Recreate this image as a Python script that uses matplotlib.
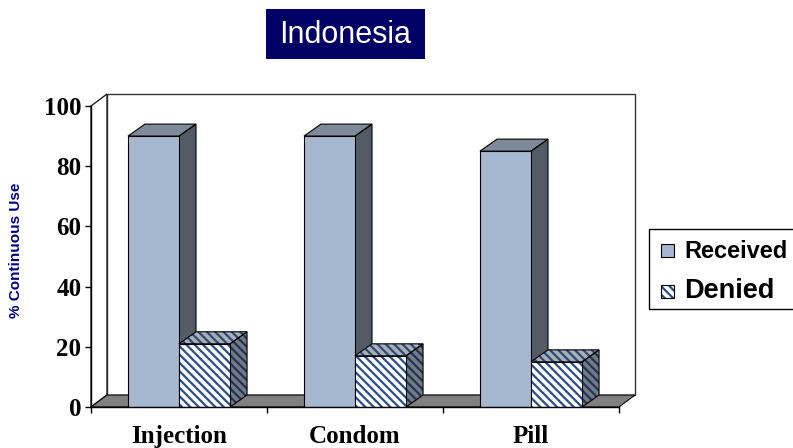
import matplotlib
matplotlib.use("Agg")
import matplotlib.pyplot as plt
from matplotlib.patches import Polygon, Rectangle
import numpy as np

# ---- data ----
categories = ["Injection", "Condom", "Pill"]
received = [90, 90, 85]
denied = [21, 17, 15]
series_names = ["Received", "Denied"]
y_ticks = [0, 20, 40, 60, 80, 100]
title = "Indonesia"
y_label = "% Continuous Use"

W, H = 793, 448
plt.rcParams['hatch.linewidth'] = 1.6

fig = plt.figure(figsize=(W / 100, H / 100), dpi=100)
# axes = front plane of the 3-D chart (pixels 91..619 x, 106..407 y)
ax = fig.add_axes([91 / W, (H - 407) / H, (619 - 91) / W, (407 - 106) / H])
ax.set_xlim(-0.5, len(categories) - 0.5)
ax.set_ylim(0, 100)
ax.patch.set_visible(False)

# depth offset (in data units) derived from pixel depth of the Excel chart
px_x = (619 - 91) / 3.0
px_y = (407 - 106) / 100.0
DX = 16 / px_x
DY = 12 / px_y
BDX = 17 / px_x
BDY = 12 / px_y

EDGE = "black"
LW = 0.8
x0a, x1a = -0.5, len(categories) - 0.5

# back wall
ax.add_patch(Polygon([(x0a + DX, DY), (x1a + DX, DY), (x1a + DX, 100 + DY), (x0a + DX, 100 + DY)],
                     closed=True, facecolor="white", edgecolor="#333333", lw=1.0,
                     clip_on=False, zorder=0.5))
# left side wall
ax.add_patch(Polygon([(x0a, 0), (x0a + DX, DY), (x0a + DX, 100 + DY), (x0a, 100)],
                     closed=True, facecolor="white", edgecolor="#222222", lw=1.0,
                     clip_on=False, zorder=0.6))
# floor
ax.add_patch(Polygon([(x0a, 0), (x1a, 0), (x1a + DX, DY), (x0a + DX, DY)],
                     closed=True, facecolor="#808080", edgecolor=EDGE, lw=LW,
                     clip_on=False, zorder=0.7))

x = np.arange(len(categories))
bw = 0.29

rec_front = "#A6B8CF"
rec_top = "#7E8A9A"
rec_side = "#525B66"

hatch = "\\\\\\\\"
den_hatch_front = "#2A4E85"
den_top_bg, den_top_h = "#A8AFB8", "#2E4A72"
den_side_bg, den_side_h = "#737B86", "#213554"

z = 1.0


def draw_3d(rect, top_kw, side_kw, zb):
    xl = rect.get_x()
    xr = xl + rect.get_width()
    h = rect.get_height()
    top = [(xl, h), (xr, h), (xr + BDX, h + BDY), (xl + BDX, h + BDY)]
    side = [(xr, 0), (xr + BDX, BDY), (xr + BDX, h + BDY), (xr, h)]
    for pts, kw in ((top, top_kw), (side, side_kw)):
        ax.add_patch(Polygon(pts, closed=True, clip_on=False, zorder=zb, **kw))
        ax.add_patch(Polygon(pts, closed=True, fill=False, edgecolor=EDGE, lw=LW,
                             clip_on=False, zorder=zb + 0.01))


for i in range(len(categories)):
    # received bar
    r = ax.bar(x[i] - bw, received[i], width=bw, align="edge", color=rec_front,
               edgecolor=EDGE, linewidth=LW, zorder=z + 0.02)[0]
    draw_3d(r, dict(facecolor=rec_top, edgecolor="none", lw=0),
            dict(facecolor=rec_side, edgecolor="none", lw=0), z)
    z += 0.1
    # denied bar (hatched)
    d = ax.bar(x[i], denied[i], width=bw, align="edge", color="white",
               edgecolor=den_hatch_front, linewidth=0, hatch=hatch, zorder=z + 0.02)[0]
    ax.bar(x[i], denied[i], width=bw, align="edge", fill=False,
           edgecolor=EDGE, linewidth=LW, zorder=z + 0.03)
    draw_3d(d, dict(facecolor=den_top_bg, edgecolor=den_top_h, lw=0, hatch=hatch),
            dict(facecolor=den_side_bg, edgecolor=den_side_h, lw=0, hatch=hatch), z)
    z += 0.1

# spines / ticks
for s in ("top", "right"):
    ax.spines[s].set_visible(False)
ax.spines["left"].set_linewidth(1.0)
ax.spines["bottom"].set_linewidth(1.0)
ax.spines["left"].set_zorder(10)
ax.spines["bottom"].set_zorder(10)

ax.set_yticks(y_ticks)
ax.set_yticklabels([str(v) for v in y_ticks], fontfamily="Liberation Serif",
                   fontweight="bold", fontsize=18)
ax.tick_params(axis="y", direction="out", length=4, width=1, pad=3)

ax.set_xticks(np.arange(len(categories) + 1) - 0.5)
ax.set_xticklabels([])
ax.tick_params(axis="x", which="major", direction="out", length=4, width=1)
ax.set_xticks(x, minor=True)
ax.set_xticklabels(categories, minor=True, fontfamily="Liberation Serif",
                   fontweight="bold", fontsize=18)
ax.tick_params(axis="x", which="minor", length=0, pad=13)

# y label
fig.text(16 / W, 1 - 250 / H, y_label, rotation=90, ha="center", va="center",
         fontfamily="Liberation Sans", fontweight="bold", fontsize=11, color="#000080")

# title box
fig.add_artist(Rectangle((266 / W, 1 - 59 / H), (425 - 266) / W, 50 / H,
                         transform=fig.transFigure, facecolor="#000066",
                         edgecolor="none"))
fig.text(345.5 / W, 1 - 35 / H, title, ha="center", va="center",
         fontfamily="Liberation Sans", fontsize=22, color="white")

# legend (drawn manually, box runs off the right edge like the original)
fig.add_artist(Rectangle((649 / W, 1 - 309 / H), (810 - 649) / W, (309 - 229) / H,
                         transform=fig.transFigure, facecolor="white",
                         edgecolor="black", lw=1.0, clip_on=False))
fig.add_artist(Rectangle((661 / W, 1 - 257 / H), 13 / W, 13 / H,
                         transform=fig.transFigure, facecolor=rec_front,
                         edgecolor="black", lw=0.8))
fig.add_artist(Rectangle((661 / W, 1 - 298 / H), 13 / W, 13 / H,
                         transform=fig.transFigure, facecolor="white",
                         edgecolor=den_hatch_front, lw=0, hatch="\\\\\\\\"))
fig.add_artist(Rectangle((661 / W, 1 - 298 / H), 13 / W, 13 / H,
                         transform=fig.transFigure, fill=False,
                         edgecolor="black", lw=0.8))
fig.text(684 / W, 1 - 251 / H, series_names[0], ha="left", va="center",
         fontfamily="Liberation Sans", fontweight="bold", fontsize=17)
fig.text(684 / W, 1 - 291 / H, series_names[1], ha="left", va="center",
         fontfamily="Liberation Sans", fontweight="bold", fontsize=19.5)

fig.savefig("out.png", dpi=100)
